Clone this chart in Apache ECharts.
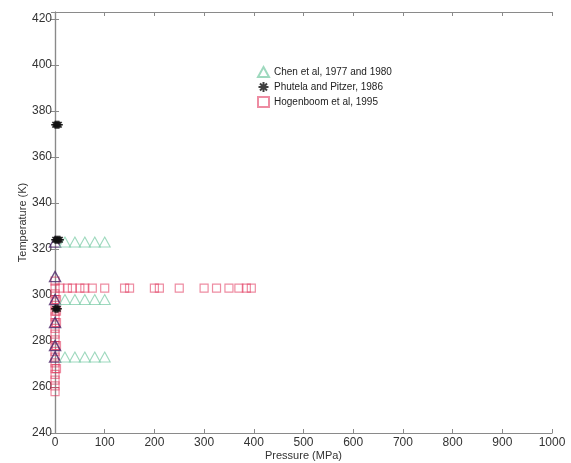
<!DOCTYPE html>
<html><head><meta charset="utf-8">
<script src="https://cdn.jsdelivr.net/npm/echarts@6/dist/echarts.min.js"></script>
<style>html,body{margin:0;padding:0;background:#fff}#c{width:571px;height:463px}</style>
</head><body><div id="c"></div>
<script>
// Chen et al, 1977 and 1980
const chenP = [0.1, 20, 40, 60, 80, 100, 0.1, 20, 40, 60, 80, 100, 0.1, 20, 40, 60, 80, 100, 0.1, 0.1, 0.1];
const chenT = [323, 323, 323, 323, 323, 323, 298, 298, 298, 298, 298, 298, 273, 273, 273, 273, 273, 273, 278, 288, 308];
// Phutela and Pitzer, 1986
const phuP = [0.1, 2, 4, 6, 8, 0.1, 2, 4, 6, 8, 10, 0.1, 2, 4, 6];
const phuT = [374, 374, 374, 374, 374, 324, 324, 324, 324, 324, 324, 294, 294, 294, 294];
// Hogenboom et al, 1995
const hogP = [0.1, 10, 25, 35, 50, 60, 75, 100, 140, 150, 200, 210, 250, 300, 325, 350, 370, 385, 395,
  0.1, 0.1, 0.1, 0.1, 0.1, 0.1, 0.1, 0.1, 0.1, 0.1, 0.1, 0.1, 0.1, 0.1, 0.1, 0.1, 0.1, 0.1, 0.1, 3, 3, 3, 3, 3];
const hogT = [303, 303, 303, 303, 303, 303, 303, 303, 303, 303, 303, 303, 303, 303, 303, 303, 303, 303, 303,
  258, 260.5, 263, 265.5, 268, 270.5, 273, 275.5, 278, 280.5, 283, 285.5, 288, 290.5, 293, 295.5, 298, 300.5, 306, 268, 278, 288, 293, 298];
const xTicks = [0, 100, 200, 300, 400, 500, 600, 700, 800, 900, 1000];
const yTicks = [240, 260, 280, 300, 320, 340, 360, 380, 400, 420];

const zip = (a, b) => a.map((v, i) => [v, b[i]]);
const font = 'Liberation Sans, Arial, sans-serif';
const axisCol = '#8a8a8a';
const starPath = 'path://M0,5L10,5M5,0L5,10M1.5,1.5L8.5,8.5M8.5,1.5L1.5,8.5';

const chart = echarts.init(document.getElementById('c'));
const baseX = {
  type: 'value', min: 0, max: 1000, interval: 100,
  axisLine: { show: true, lineStyle: { color: axisCol, width: 1.2 } },
  axisTick: { show: true, inside: true, length: 4, lineStyle: { color: axisCol } },
  splitLine: { show: false }
};
const baseY = {
  type: 'value', min: 240, max: 423, interval: 20,
  axisLine: { show: true, lineStyle: { color: axisCol, width: 1.2 } },
  axisTick: { show: true, inside: true, length: 4, lineStyle: { color: axisCol } },
  splitLine: { show: false }
};
chart.setOption({
  backgroundColor: '#fff',
  animation: false,
  grid: { left: 55, right: 19, top: 12, bottom: 30, containLabel: false, outerBoundsMode: 'none' },
  legend: {
    orient: 'vertical', left: 252, top: 61, itemGap: 3, itemWidth: 11, itemHeight: 10,
    textStyle: { fontFamily: font, fontSize: 10, color: '#222' },
    data: ['Chen et al, 1977 and 1980', 'Phutela and Pitzer, 1986', 'Hogenboom et al, 1995']
  },
  xAxis: [
    Object.assign({}, baseX, {
      position: 'bottom', name: 'Pressure (MPa)', nameLocation: 'middle', nameGap: 17, nameMoveOverlap: false,
      nameTextStyle: { fontFamily: font, fontSize: 11, color: '#333' },
      axisLabel: { fontFamily: font, fontSize: 12, color: '#333', margin: 4,
        formatter: v => xTicks.includes(v) ? String(v) : '' }
    }),
    Object.assign({}, baseX, { position: 'top', axisLabel: { show: false } })
  ],
  yAxis: [
    Object.assign({}, baseY, {
      position: 'left', name: 'Temperature (K)', nameLocation: 'middle', nameGap: 27, nameMoveOverlap: false,
      nameTextStyle: { fontFamily: font, fontSize: 11, color: '#333' },
      axisLabel: { fontFamily: font, fontSize: 12, color: '#333', margin: 3, showMaxLabel: false,
        formatter: v => yTicks.includes(v) ? String(v) : '' }
    }),
    Object.assign({}, baseY, { position: 'right', axisLabel: { show: false } })
  ],
  series: [
    {
      name: 'Hogenboom et al, 1995', type: 'scatter', symbol: 'rect', symbolSize: 8,
      itemStyle: { color: 'rgba(255,255,255,0)', borderColor: 'rgba(225,50,90,0.7)', borderWidth: 1.2 },
      data: zip(hogP, hogT)
    },
    {
      name: 'Chen et al, 1977 and 1980', type: 'scatter', symbol: 'triangle', symbolSize: [11, 10],
      itemStyle: { color: 'rgba(255,255,255,0)', borderColor: '#86cfae', borderWidth: 1.1 },
      data: zip(chenP, chenT).map(d => d[0] < 1
        ? { value: d, itemStyle: { borderColor: '#4a2368', borderWidth: 1.4 } }
        : { value: d })
    },
    {
      name: 'Phutela and Pitzer, 1986', type: 'scatter', symbol: starPath, symbolSize: 8,
      itemStyle: { color: 'rgba(0,0,0,0)', borderColor: '#111', borderWidth: 1.4 },
      data: zip(phuP, phuT)
    }
  ]
});
</script></body></html>
